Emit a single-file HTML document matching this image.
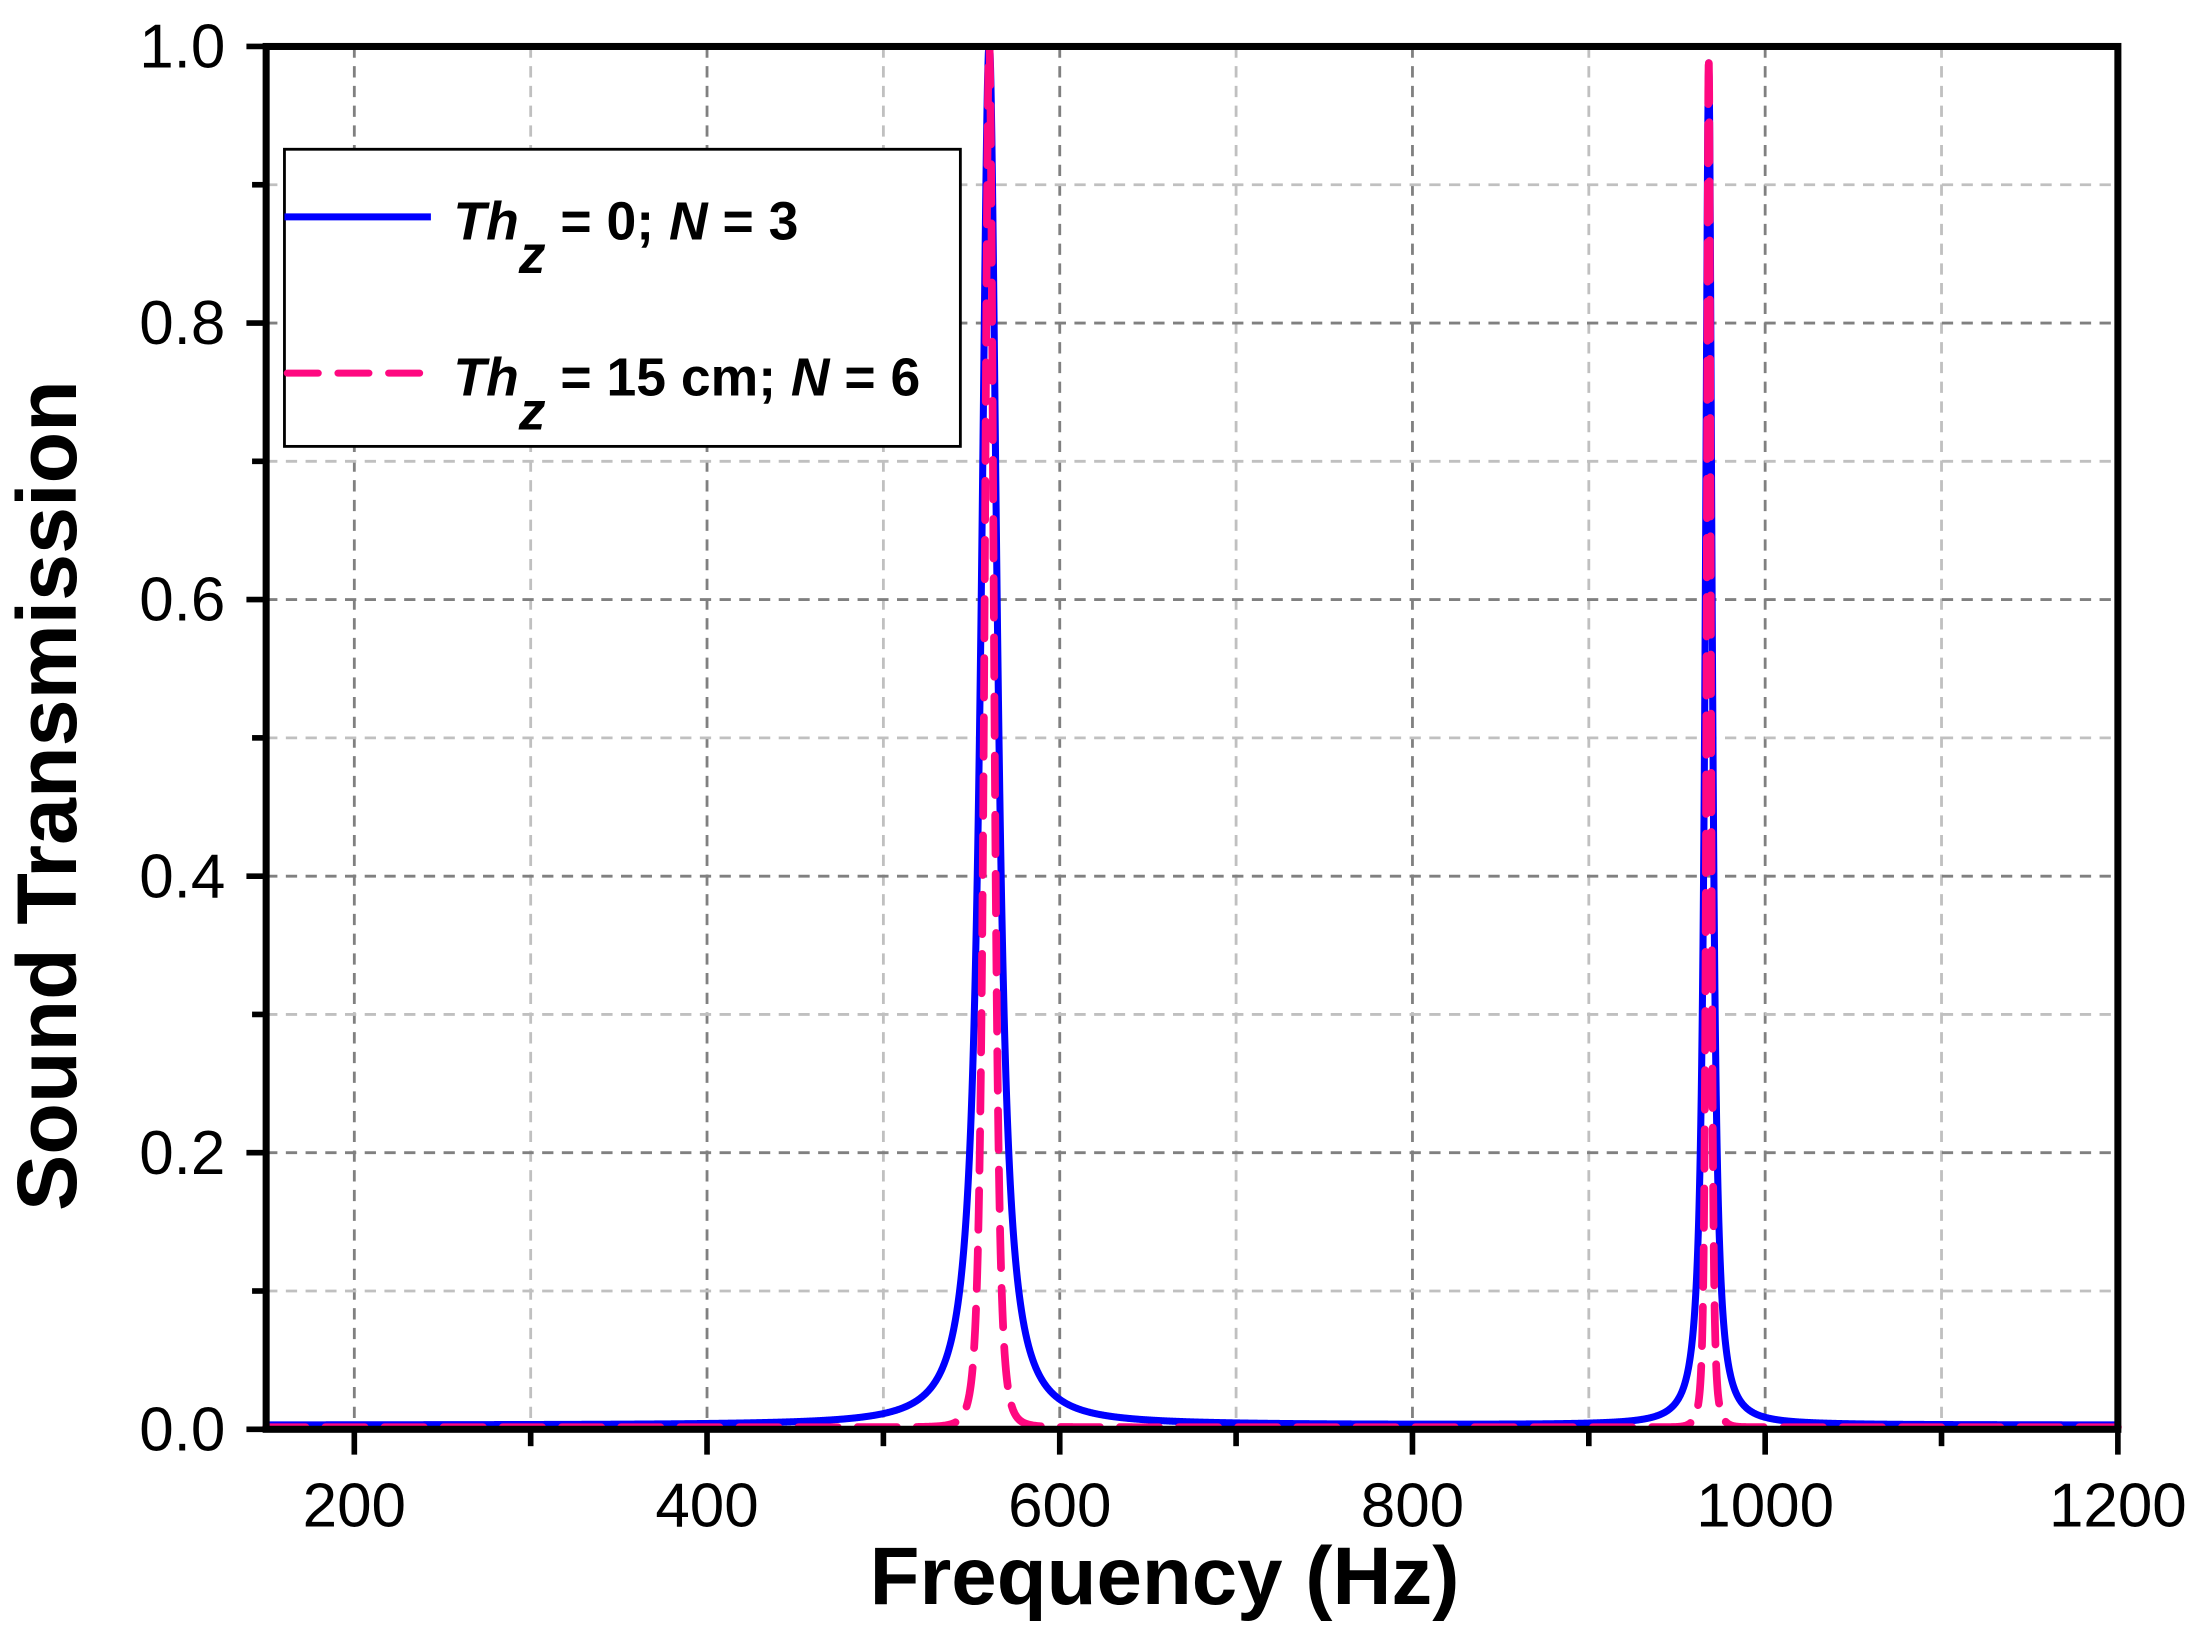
<!DOCTYPE html>
<html><head><meta charset="utf-8"><style>
html,body{margin:0;padding:0;background:#fff;}
svg{display:block;}
</style></head><body>
<svg id="s" width="2208" height="1640" viewBox="0 0 1568 1164.64" preserveAspectRatio="none" xmlns="http://www.w3.org/2000/svg" font-family="Liberation Sans, Arial, sans-serif">
<g id="grid"></g>
<path id="pb" fill="none" stroke="#0000ff" stroke-width="5" stroke-linejoin="round"/>
<path id="pp" fill="none" stroke="#ff0880" stroke-width="5.5" stroke-dasharray="28,14" stroke-linecap="round"/>
<g id="ticks"></g>
<rect x="189" y="33" width="1315" height="982" fill="none" stroke="#000" stroke-width="5"/>
<g font-size="44" fill="#000" text-anchor="end" id="ylab"></g>
<g font-size="44" fill="#000" text-anchor="middle" id="xlab"></g>
<text x="827" y="1139" font-size="58" font-weight="bold" text-anchor="middle">Frequency (Hz)</text>
<text transform="translate(54,565) rotate(-90)" font-size="60" font-weight="bold" text-anchor="middle">Sound Transmission</text>
<rect x="202" y="106" width="480" height="211" fill="#fff" stroke="#000" stroke-width="2"/>
<line x1="202" y1="154" x2="306" y2="154" stroke="#0000ff" stroke-width="5"/>
<line x1="204" y1="265" x2="306" y2="265" stroke="#ff0880" stroke-width="5" stroke-dasharray="22,14" stroke-linecap="round"/>
<g font-size="38" font-weight="bold">
<text x="322" y="170"><tspan font-style="italic">Th</tspan><tspan font-style="italic" dy="24">z</tspan><tspan dy="-24"> = 0; </tspan><tspan font-style="italic">N</tspan> = 3</text>
<text x="322" y="281"><tspan font-style="italic">Th</tspan><tspan font-style="italic" dy="24">z</tspan><tspan dy="-24"> = 15 cm; </tspan><tspan font-style="italic">N</tspan> = 6</text>
</g>
</svg>
<script>
var L=189,R=1504,T=33,B=1015;
function X(f){return L+(f-150)*(R-L)/1050;}
function Y(v){return B-v*(B-T);}
var ns="http://www.w3.org/2000/svg";
function el(p,t,a,txt){var e=document.createElementNS(ns,t);for(var k in a)e.setAttribute(k,a[k]);if(txt!=null)e.textContent=txt;document.getElementById(p).appendChild(e);}
for(var f=200;f<=1100;f+=100){var maj=(f%200==0);el("grid","line",{x1:X(f),x2:X(f),y1:T,y2:B,stroke:maj?"#808080":"#c0c0c0","stroke-width":2,"stroke-dasharray":"8,6"});}
for(var i=1;i<10;i++){var v=i/10;var maj=(i%2==0);el("grid","line",{x1:L,x2:R,y1:Y(v),y2:Y(v),stroke:maj?"#808080":"#c0c0c0","stroke-width":2,"stroke-dasharray":"8,6"});}
for(var f=200;f<=1200;f+=100){var maj=(f%200==0);el("ticks","line",{x1:X(f),x2:X(f),y1:B,y2:B+(maj?18:12),stroke:"#000","stroke-width":4});if(maj)el("xlab","text",{x:X(f),y:1084},String(f));}
for(var i=0;i<=10;i++){var v=i/10;var maj=(i%2==0);el("ticks","line",{x1:L,x2:L-(maj?14:10),y1:Y(v),y2:Y(v),stroke:"#000","stroke-width":4});if(maj)el("ylab","text",{x:160,y:Y(v)+15},v.toFixed(1));}
function lor(f,c,g){var u=(f-c)/g;return 1/(1+u*u);}
var db="",dp="";
for(var f=150;f<=1200;f+=0.25){
 var b=lor(f,560,5.5)+0.985*lor(f,968,2.4)+0.003;
 var p1=lor(f,560,4.8),p2=lor(f,968,2.1);
 var p=p1*p1+0.985*p2*p2+0.0015+0.008*Math.exp(-Math.pow((f-968)/8,2));
 if(b>1)b=1;if(p>1)p=1;
 db+=(db?"L":"M")+X(f).toFixed(2)+","+Y(b).toFixed(2);
 dp+=(dp?"L":"M")+X(f).toFixed(2)+","+Y(p).toFixed(2);
}
document.getElementById("pb").setAttribute("d",db);
document.getElementById("pp").setAttribute("d",dp);
</script>
</body></html>
